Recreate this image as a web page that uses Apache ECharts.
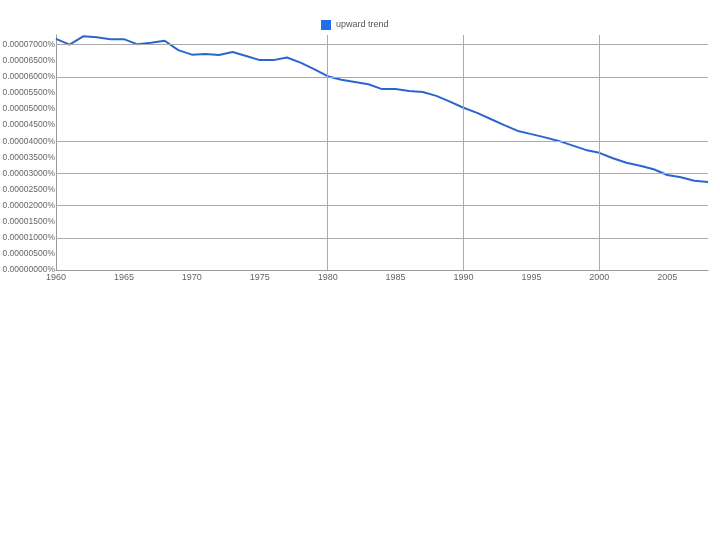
<!DOCTYPE html>
<html>
<head>
<meta charset="utf-8">
<script src="https://cdn.jsdelivr.net/npm/echarts@6/dist/echarts.min.js"></script>
<style>html,body{margin:0;padding:0;background:#fff}#c{width:720px;height:540px}</style>
</head>
<body>
<div id="c"></div>
<script>
var years = [1960,1961,1962,1963,1964,1965,1966,1967,1968,1969,1970,1971,1972,1973,1974,1975,1976,1977,1978,1979,1980,1981,1982,1983,1984,1985,1986,1987,1988,1989,1990,1991,1992,1993,1994,1995,1996,1997,1998,1999,2000,2001,2002,2003,2004,2005,2006,2007,2008];
var upwardTrend = [0.0000718,0.0000700,0.0000726,0.0000723,0.0000717,0.0000717,0.0000701,0.0000706,0.0000712,0.0000683,0.0000669,0.0000671,0.0000668,0.0000677,0.0000665,0.0000652,0.0000652,0.0000660,0.0000644,0.0000624,0.0000602,0.0000591,0.0000584,0.0000577,0.0000562,0.0000562,0.0000556,0.0000553,0.0000541,0.0000523,0.0000504,0.0000488,0.0000469,0.0000450,0.0000432,0.0000422,0.0000412,0.0000401,0.0000387,0.0000373,0.0000364,0.0000347,0.0000333,0.0000324,0.0000313,0.0000295,0.0000288,0.0000277,0.0000273];
var seriesName = 'upward trend';
var yMin = 0, yMax = 0.000073, yStep = 0.000005;
var xMin = 1960, xMax = 2008, xStep = 5;
var vGridYears = [1980, 1990, 2000];
var hGridValues = [0.00001, 0.00002, 0.00003, 0.00004, 0.00006, 0.00007];

var chart = echarts.init(document.getElementById('c'), null, {renderer:'canvas'});
var font = 'Liberation Sans, Arial, sans-serif';
var grid = [];
vGridYears.forEach(function(y){ grid.push([{coord: [y, yMin]}, {coord: [y, yMax]}]); });
hGridValues.forEach(function(v){ grid.push([{coord: [xMin, v]}, {coord: [xMax, v]}]); });

chart.setOption({
  animation: false,
  backgroundColor: '#fff',
  legend: {
    data: [seriesName],
    top: 15, left: 316,
    icon: 'rect', itemWidth: 10, itemHeight: 10, itemGap: 5,
    textStyle: {fontFamily: font, fontSize: 9, color: '#555'}
  },
  grid: {left: 56, right: 12, top: 35, bottom: 270, containLabel: false, outerBoundsMode: 'none'},
  xAxis: {
    type: 'value', min: xMin, max: xMax, interval: xStep,
    axisLine: {show: true, lineStyle: {color: '#999', width: 1}},
    axisTick: {show: false},
    splitLine: {show: false},
    axisLabel: {fontFamily: font, fontSize: 9, color: '#666', margin: 3, showMaxLabel: false,
      formatter: function(v){ return String(v); }}
  },
  yAxis: {
    type: 'value', min: yMin, max: yMax, interval: yStep,
    axisLine: {show: true, lineStyle: {color: '#999', width: 1}},
    axisTick: {show: false},
    splitLine: {show: false},
    axisLabel: {fontFamily: font, fontSize: 8.5, color: '#666', margin: 1, showMaxLabel: false,
      formatter: function(v){ return v.toFixed(8) + '%'; }}
  },
  series: [
    {
      name: 'grid', type: 'line', data: [], z: 1, silent: true,
      markLine: {
        silent: true, symbol: ['none','none'], animation: false,
        label: {show: false},
        lineStyle: {color: '#aaa', width: 1, type: 'solid'},
        emphasis: {disabled: true},
        data: grid
      }
    },
    {
      name: seriesName, type: 'line', z: 3,
      data: years.map(function(y, i){ return [y, upwardTrend[i]]; }),
      showSymbol: false, symbol: 'none',
      lineStyle: {color: '#2a66d0', width: 2},
      itemStyle: {color: '#1f6fe6'}
    }
  ]
});
</script>
</body>
</html>
